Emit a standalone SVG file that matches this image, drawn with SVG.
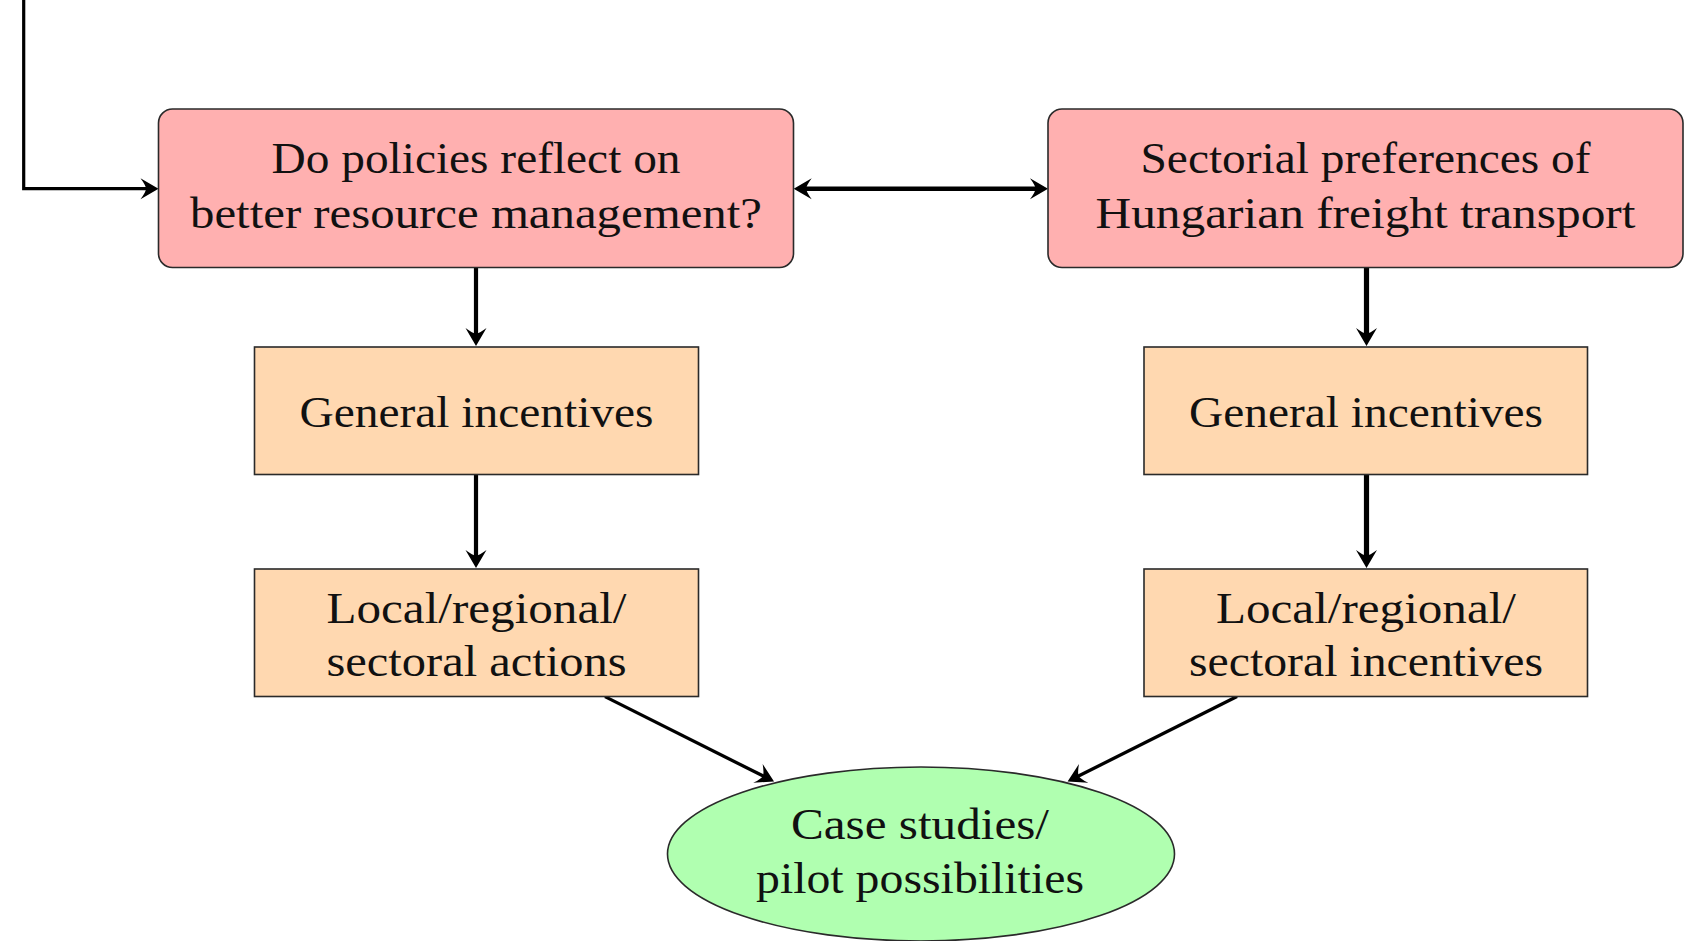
<svg xmlns="http://www.w3.org/2000/svg" width="1691" height="941" viewBox="0 0 1691 941">
<style>
.box{stroke:#2a2a2a;stroke-width:1.6}
.red{fill:#ffb0b0}
.org{fill:#ffd8b0}
.grn{fill:#b0ffb0}
text{font-family:"Liberation Serif","Times New Roman",serif;font-size:44px;fill:#111;text-anchor:middle}
.c{fill:none;stroke:#000}
</style>
<defs>
<marker id="ah" markerUnits="userSpaceOnUse" viewBox="-25 -12 30 24" markerWidth="30" markerHeight="24" refX="-10" refY="0" orient="auto-start-reverse" overflow="visible">
<path d="M0,0 L-18,-10.5 Q-12.5,-3 -12.5,0 Q-12.5,3 -18,10.5 Z" fill="#000"/>
</marker>
</defs>
<rect width="1691" height="941" fill="#fff"/>
<g id="connectors">
<path class="c" d="M23.7,0 V188.7 H148.5" stroke-width="3.2" marker-end="url(#ah)"/>
<path class="c" d="M803.7,188.7 H1038" stroke-width="4.6" marker-start="url(#ah)" marker-end="url(#ah)"/>
<path class="c" d="M476,267.5 V336" stroke-width="4.2" marker-end="url(#ah)"/>
<path class="c" d="M476,474.5 V558" stroke-width="4.2" marker-end="url(#ah)"/>
<path class="c" d="M1366.5,267.5 V336" stroke-width="5.2" marker-end="url(#ah)"/>
<path class="c" d="M1366.5,474.5 V558" stroke-width="5.2" marker-end="url(#ah)"/>
<path class="c" d="M605,696.6 L765.1,777" stroke-width="3.3" marker-end="url(#ah)"/>
<path class="c" d="M1237,696.6 L1076.5,777" stroke-width="3.3" marker-end="url(#ah)"/>
</g>
<g id="n1">
<rect class="box red" x="158.5" y="109" width="635" height="158.5" rx="14"/>
<text x="476" y="173" textLength="409" lengthAdjust="spacingAndGlyphs">Do policies reflect on</text>
<text x="476" y="227.5" textLength="572" lengthAdjust="spacingAndGlyphs">better resource management?</text>
</g>
<g id="n2">
<rect class="box red" x="1048" y="109" width="635" height="158.5" rx="14"/>
<text x="1365.5" y="173" textLength="450" lengthAdjust="spacingAndGlyphs">Sectorial preferences of</text>
<text x="1365.5" y="227.5" textLength="540" lengthAdjust="spacingAndGlyphs">Hungarian freight transport</text>
</g>
<g id="n3">
<rect class="box org" x="254.5" y="347" width="444" height="127.5"/>
<text x="476.5" y="427" textLength="354" lengthAdjust="spacingAndGlyphs">General incentives</text>
</g>
<g id="n4">
<rect class="box org" x="1144" y="347" width="443.5" height="127.5"/>
<text x="1366" y="427" textLength="354" lengthAdjust="spacingAndGlyphs">General incentives</text>
</g>
<g id="n5">
<rect class="box org" x="254.5" y="569" width="444" height="127.5"/>
<text x="476.5" y="623" textLength="300" lengthAdjust="spacingAndGlyphs">Local/regional/</text>
<text x="476.5" y="676" textLength="300" lengthAdjust="spacingAndGlyphs">sectoral actions</text>
</g>
<g id="n6">
<rect class="box org" x="1144" y="569" width="443.5" height="127.5"/>
<text x="1366" y="623" textLength="300" lengthAdjust="spacingAndGlyphs">Local/regional/</text>
<text x="1366" y="676" textLength="354" lengthAdjust="spacingAndGlyphs">sectoral incentives</text>
</g>
<g id="n7">
<ellipse class="box grn" cx="921" cy="854" rx="253.5" ry="87"/>
<text x="920" y="839" textLength="258" lengthAdjust="spacingAndGlyphs">Case studies/</text>
<text x="920" y="893" textLength="328" lengthAdjust="spacingAndGlyphs">pilot possibilities</text>
</g>
</svg>
